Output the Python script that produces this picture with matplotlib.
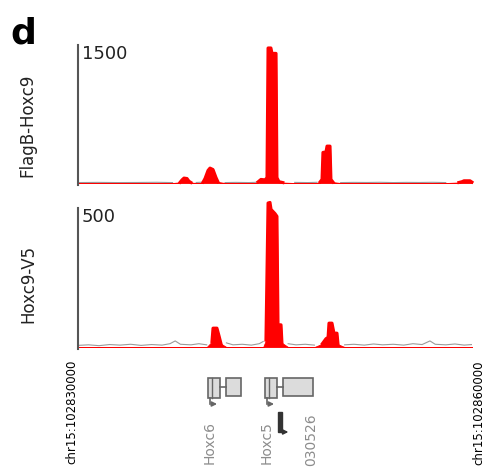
import numpy as np
import matplotlib.pyplot as plt
from matplotlib.patches import Rectangle

# Region shown: chr15:102830000 - 102860000, positions below in kb from the start
region_start = 102830000
region_end = 102860000

# FlagB-Hoxc9 track
flag_pos = [0, 1.5, 3, 4.5, 6, 7.2, 7.77, 7.92, 8.07, 8.30, 8.45, 8.60, 9.0, 9.4,
            9.52, 9.67, 9.90, 10.05, 10.28, 10.51, 10.66, 11.2, 12, 13, 13.6,
            13.70, 13.93, 14.24, 14.39, 14.47, 14.69, 14.77, 15.08, 15.15, 15.30,
            15.6, 16.5, 17.5, 18.2, 18.43, 18.58, 18.65, 18.88, 18.96, 19.19, 19.26,
            19.42, 20, 21, 22, 23, 24, 25, 26, 27, 28, 29.0, 29.24, 29.39, 29.85, 30]
flag_val = [5, 7, 5, 6, 8, 5, 8, 35, 55, 50, 20, 6, 6, 9,
            10, 50, 140, 166, 150, 60, 12, 5, 7, 5, 8,
            12, 40, 35, 60, 1500, 1500, 1440, 1440, 60, 15,
            5, 7, 5, 8, 12, 40, 340, 345, 410, 410, 40,
            10, 5, 7, 6, 8, 5, 7, 6, 8, 5, 6, 15, 25, 25, 10]

# Hoxc9-V5 track
v5_pos = [0, 0.8, 1.6, 2.4, 3.2, 4, 4.8, 5.6, 6.4, 7.0, 7.4, 7.8, 8.6, 9.2, 9.8,
          10.20, 10.28, 10.58, 10.74, 10.89, 11.3, 11.8, 12.5, 13.2, 13.8, 14.1,
          14.31, 14.47, 14.62, 14.70, 15.0, 15.15, 15.23, 15.46, 15.53,
          16, 16.6, 17.3, 18, 18.6, 18.88, 19.04, 19.11, 19.34, 19.49, 19.72, 19.80,
          20.3, 21, 21.8, 22.5, 23.2, 24, 24.8, 25.5, 26.2, 26.8, 27.2, 28, 28.7, 29.4, 30]
v5_val = [6, 8, 5, 9, 7, 10, 6, 9, 7, 12, 22, 10, 8, 12, 8,
          20, 68, 68, 40, 12, 15, 8, 10, 7, 12, 20,
          25, 518, 520, 495, 480, 470, 80, 80, 15,
          12, 8, 10, 7, 12, 30, 35, 86, 86, 50, 50, 10,
          8, 10, 7, 11, 8, 10, 7, 12, 9, 22, 10, 8, 11, 7, 9]

# Gene models (kb from region start)
gene_names = ['Hoxc6', 'Hoxc5']
exon1_start = [9.90, 14.24]
exon1_end = [10.81, 15.15]
exon2_start = [11.27, 15.61]
exon2_end = [12.41, 17.89]
small_gene = '030526'
small_start, small_end = 15.23, 15.53

fig = plt.figure(figsize=(4.88, 4.73), dpi=100)


def box(l, t, r, b):
    return [l / 488, 1 - b / 473, (r - l) / 488, (b - t) / 473]


def draw_track(ax, pos, val, thr, top, ylim):
    pos = np.array(pos, dtype=float)
    val = np.array(val, dtype=float)
    hot = val > thr
    hot[1:] |= val[:-1] > thr
    hot[:-1] |= val[1:] > thr
    ax.plot(pos, np.where(hot, np.nan, val), color='#9a9a9a', lw=0.8, zorder=1)
    ax.fill_between(pos, 0, np.where(hot, val, 0), facecolor='red',
                    edgecolor='red', lw=0.6, zorder=2)
    ax.plot(pos, np.where(hot, val, np.nan), color='red', lw=2.2,
            clip_on=False, zorder=3)
    ax.set_xlim(0, 30)
    ax.set_ylim(*ylim)
    ax.set_xticks([])
    ax.set_yticks([])
    for s in ['top', 'right', 'bottom']:
        ax.spines[s].set_visible(False)
    ax.spines['left'].set_color('#555555')
    ax.spines['left'].set_linewidth(1.5)
    ax.text(0.01, 1.0, top, transform=ax.transAxes, fontsize=13,
            va='top', ha='left', color='#222222')


ax1 = fig.add_axes(box(78, 45, 472, 185))
draw_track(ax1, flag_pos, flag_val, 12, '1500', (-22, 1533))
ax2 = fig.add_axes(box(78, 208, 472, 349))
draw_track(ax2, v5_pos, v5_val, 25, '500', (-7, 500))

fig.text(27 / 488, 1 - 125 / 473, 'FlagB-Hoxc9', rotation=90, fontsize=12,
         ha='center', va='center', color='#222222')
fig.text(28 / 488, 1 - 284 / 473, 'Hoxc9-V5', rotation=90, fontsize=12,
         ha='center', va='center', color='#222222')
fig.text(10 / 488, 1 - 16 / 473, 'd', fontsize=26, fontweight='bold',
         ha='left', va='top')

# gene annotation strip
axg = fig.add_axes(box(78, 355, 472, 473))
axg.set_xlim(0, 30)
axg.set_ylim(118, 0)
axg.axis('off')
edge = '#666666'
for i, name in enumerate(gene_names):
    top = 23
    axg.add_patch(Rectangle((exon1_start[i], top), exon1_end[i] - exon1_start[i], 20,
                            facecolor='#dcdcdc', edgecolor=edge, lw=1.2))
    axg.plot([exon1_start[i] + 0.3] * 2, [top, top + 20], color=edge, lw=1)
    axg.add_patch(Rectangle((exon2_start[i], top), exon2_end[i] - exon2_start[i], 18,
                            facecolor='#dcdcdc', edgecolor=edge, lw=1.2))
    axg.plot([exon1_end[i], exon2_start[i]], [top + 9, top + 9], color=edge, lw=1.2)
    # transcription start arrow
    axg.plot([exon1_start[i] + 0.15] * 2, [top + 20, top + 26], color=edge, lw=1.2)
    axg.annotate('', xy=(exon1_start[i] + 0.9, top + 26),
                 xytext=(exon1_start[i] + 0.1, top + 26),
                 arrowprops=dict(arrowstyle='-|>', color=edge, lw=1.2,
                                 mutation_scale=7))
    axg.text(exon1_start[i] + 0.1, 66, name, rotation=90, fontsize=10,
             ha='center', va='top', color='#8c8c8c')

axg.add_patch(Rectangle((small_start, 57), small_end - small_start, 20,
                        facecolor='#333333', edgecolor='#333333', lw=1))
axg.annotate('', xy=(small_start + 1.0, 77), xytext=(small_start + 0.15, 77),
             arrowprops=dict(arrowstyle='-|>', color='#333333', lw=1.2,
                             mutation_scale=7))
axg.text(small_start + 2.5, 58, small_gene, rotation=90, fontsize=10,
         ha='center', va='top', color='#8c8c8c')

axg.text(0, 5, 'chr15:%d' % region_start, rotation=90, fontsize=8.5,
         ha='right', va='top', clip_on=False)
axg.text(30, 5, 'chr15:%d' % region_end, rotation=90, fontsize=8.5,
         ha='left', va='top', clip_on=False)

fig.savefig('out.png', dpi=100)
